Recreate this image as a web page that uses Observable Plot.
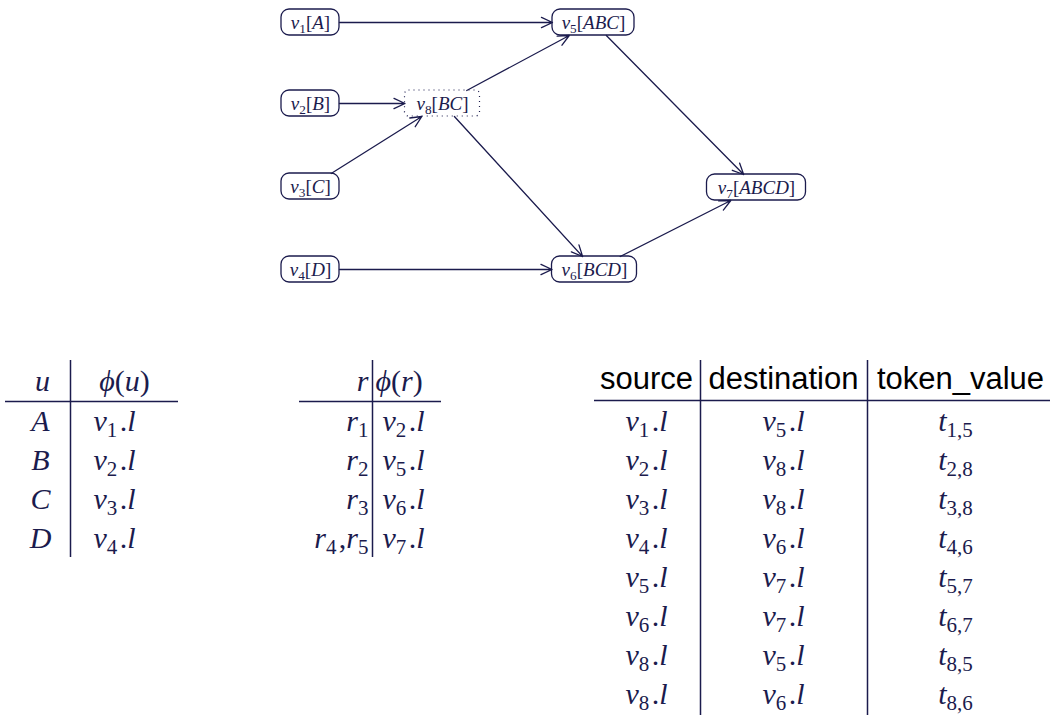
<!DOCTYPE html>
<html>
<head>
<meta charset="utf-8">
<script src="https://cdn.jsdelivr.net/npm/d3@7"></script>
<script src="https://cdn.jsdelivr.net/npm/@observablehq/plot@0.6"></script>
<style>
  body { margin: 0; background: #fff; }
  #chart svg text { font-family: "Liberation Serif", "DejaVu Serif", serif; }
  #chart svg text.hdr { font-family: "Liberation Sans", "DejaVu Sans", sans-serif; }
</style>
</head>
<body>
<div id="chart"></div>
<script>
const ink = '#1b1b4d'

// graph nodes: id, label, centre, box width, dotted?
const nodeIds = ['v1', 'v2', 'v3', 'v4', 'v5', 'v6', 'v7', 'v8']
const nodeLabels = ['v_1[A]', 'v_2[B]', 'v_3[C]', 'v_4[D]', 'v_5[ABC]', 'v_6[BCD]', 'v_7[ABCD]', 'v_8[BC]']
const nodeX = [310, 310, 310, 310, 593, 594, 756, 442]
const nodeY = [22, 103, 186, 269, 22, 269, 187, 103]
const nodeW = [58, 58, 58, 58, 82, 85, 99, 75]
const nodeDotted = [false, false, false, false, false, false, false, true]
const edgeFrom = ['v1', 'v2', 'v3', 'v8', 'v8', 'v5', 'v4', 'v6']
const edgeTo = ['v5', 'v8', 'v8', 'v5', 'v6', 'v7', 'v6', 'v7']

// tables
const uCol = ['A', 'B', 'C', 'D']
const phiU = ['v_1.l', 'v_2.l', 'v_3.l', 'v_4.l']
const rCol = ['r_1', 'r_2', 'r_3', 'r_4,r_5']
const phiR = ['v_2.l', 'v_5.l', 'v_6.l', 'v_7.l']
const headers3 = ['source', 'destination', 'token_value']
const sources = ['v_1.l', 'v_2.l', 'v_3.l', 'v_4.l', 'v_5.l', 'v_6.l', 'v_8.l', 'v_8.l']
const dests = ['v_5.l', 'v_8.l', 'v_8.l', 'v_6.l', 'v_7.l', 'v_7.l', 'v_5.l', 'v_6.l']
const tokens = ['t_{1,5}', 't_{2,8}', 't_{3,8}', 't_{4,6}', 't_{5,7}', 't_{6,7}', 't_{8,5}', 't_{8,6}']

const nodeH = 26
const nodes = nodeIds.map((id, i) => ({
  id, label: nodeLabels[i], x: nodeX[i], y: nodeY[i], w: nodeW[i], dotted: nodeDotted[i]
}))
const byId = new Map(nodes.map(n => [n.id, n]))

// clip edge to box borders
function clip(a, b) {
  const dx = b.x - a.x, dy = b.y - a.y
  const t = n => Math.min(dx ? (n.w / 2) / Math.abs(dx) : Infinity, dy ? (nodeH / 2) / Math.abs(dy) : Infinity)
  const ta = t(a), tb = t(b)
  return {x1: a.x + dx * ta, y1: a.y + dy * ta, x2: b.x - dx * tb, y2: b.y - dy * tb}
}
const edges = edgeFrom.map((f, i) => clip(byId.get(f), byId.get(edgeTo[i])))

const rowY = i => 421 + i * 39
const rows = (arr, x) => arr.map((t, i) => ({t, x, y: rowY(i)}))

const chart = Plot.plot({
  width: 1054,
  height: 722,
  margin: 0,
  x: {domain: [0, 1054], axis: null},
  y: {domain: [0, 722], reverse: true, axis: null},
  style: {color: ink, background: '#fff'},
  marks: [
    Plot.rect(nodes.filter(d => !d.dotted), {
      x1: d => d.x - d.w / 2, x2: d => d.x + d.w / 2,
      y1: d => d.y - nodeH / 2, y2: d => d.y + nodeH / 2,
      rx: 8, fill: 'white', stroke: ink, strokeWidth: 1.3
    }),
    Plot.rect(nodes.filter(d => d.dotted), {
      x1: d => d.x - d.w / 2, x2: d => d.x + d.w / 2,
      y1: d => d.y - nodeH / 2, y2: d => d.y + nodeH / 2,
      rx: 4, fill: 'white', stroke: ink, strokeWidth: 1.2, strokeDasharray: '1,4'
    }),
    Plot.arrow(edges, {
      x1: 'x1', y1: 'y1', x2: 'x2', y2: 'y2',
      stroke: ink, strokeWidth: 1.3, headLength: 14, headAngle: 50
    }),
    Plot.text(nodes, {x: 'x', y: 'y', text: 'label', fontSize: 19, fill: ink}),

    // table 1
    Plot.text(['u', 'ϕ(u)'], {x: [42, 124], y: [381, 381], text: d => d, fontSize: 30, fill: ink}),
    Plot.text(rows(uCol, 40), {x: 'x', y: 'y', text: 't', fontSize: 30, fill: ink}),
    Plot.text(rows(phiU, 93), {x: 'x', y: 'y', text: 't', fontSize: 30, fill: ink, textAnchor: 'start'}),
    Plot.ruleY([401], {x1: 5, x2: 178, stroke: ink, strokeWidth: 1.5}),
    Plot.ruleX([70], {y1: 360, y2: 557, stroke: ink, strokeWidth: 1.5}),

    // table 2
    Plot.text(['r'], {x: 368, y: 381, text: d => d, fontSize: 30, fill: ink, textAnchor: 'end'}),
    Plot.text(['ϕ(r)'], {x: 375, y: 381, text: d => d, fontSize: 30, fill: ink, textAnchor: 'start'}),
    Plot.text(rows(rCol, 368), {x: 'x', y: 'y', text: 't', fontSize: 30, fill: ink, textAnchor: 'end'}),
    Plot.text(rows(phiR, 382), {x: 'x', y: 'y', text: 't', fontSize: 30, fill: ink, textAnchor: 'start'}),
    Plot.ruleY([401], {x1: 299, x2: 441, stroke: ink, strokeWidth: 1.5}),
    Plot.ruleX([372], {y1: 360, y2: 557, stroke: ink, strokeWidth: 1.5}),

    // table 3
    Plot.text(headers3, {x: [646, 783, 960], y: [379, 379, 379], text: d => d,
      fontSize: 31, fill: 'black', className: 'hdr'}),
    Plot.text(rows(sources, 646), {x: 'x', y: 'y', text: 't', fontSize: 30, fill: ink}),
    Plot.text(rows(dests, 783), {x: 'x', y: 'y', text: 't', fontSize: 30, fill: ink}),
    Plot.text(rows(tokens, 955), {x: 'x', y: 'y', text: 't', fontSize: 30, fill: ink}),
    Plot.ruleY([400], {x1: 594, x2: 1050, stroke: ink, strokeWidth: 1.5}),
    Plot.ruleX([700, 867], {y1: 360, y2: 715, stroke: ink, strokeWidth: 1.5}),
  ]
})

// turn "v_1[A]" style labels into tspans: italic letters, upright digits/punctuation, subscripts
function texify(el) {
  const s = el.textContent
  if (headers3.includes(s)) {
    el.setAttribute('font-family', 'Liberation Sans, DejaVu Sans, sans-serif')
    el.style.fontFamily = '"Liberation Sans", "DejaVu Sans", sans-serif'
    return
  }
  el.style.fontFamily = '"Liberation Serif", "DejaVu Serif", serif'
  const parts = []
  let i = 0
  while (i < s.length) {
    if (s[i] === '_') {
      let sub
      if (s[i + 1] === '{') { const j = s.indexOf('}', i); sub = s.slice(i + 2, j); i = j + 1 }
      else { sub = s[i + 1]; i += 2 }
      parts.push({t: sub, sub: true})
    } else {
      parts.push({t: s[i], sub: false}); i++
    }
  }
  el.textContent = ''
  const ns = 'http://www.w3.org/2000/svg'
  let shifted = false
  for (const p of parts) {
    const ts = document.createElementNS(ns, 'tspan')
    ts.textContent = p.t
    if (p.sub) {
      ts.setAttribute('font-size', '70%')
      ts.setAttribute('dy', '0.3em')
      shifted = true
    } else {
      if (shifted) { ts.setAttribute('dy', '-0.21em'); shifted = false }
      if (/[A-Za-zϕ]/.test(p.t)) ts.setAttribute('font-style', 'italic')
      if (p.t === '.' || p.t === ',') ts.setAttribute('dx', '0.08em')
    }
    el.appendChild(ts)
  }
}
d3.select(chart).selectAll('text').each(function () { texify(this) })

d3.select('#chart').append(() => chart)
</script>
</body>
</html>
